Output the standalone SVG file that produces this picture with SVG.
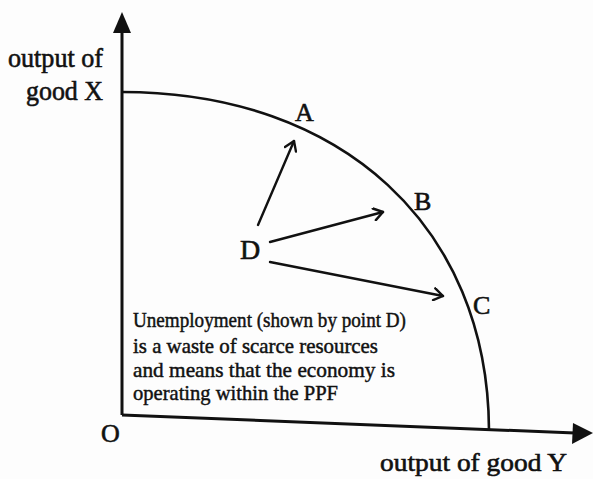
<svg xmlns="http://www.w3.org/2000/svg" width="593" height="479" viewBox="0 0 593 479">
<style>
.ax{stroke:#111;stroke-width:3;fill:none}
.cv{stroke:#111;stroke-width:2.6;fill:none}
.ar{stroke:#111;stroke-width:2.4;fill:none;stroke-linecap:round}
.lbl{font-family:"Liberation Serif",serif;fill:#111;stroke:#111;stroke-width:0.6}
.note{font-family:"Liberation Serif",serif;fill:#111;font-size:21px;stroke:#111;stroke-width:0.45}
</style>
<defs>
<marker id="open" markerWidth="14" markerHeight="14" refX="11" refY="7" orient="auto" markerUnits="userSpaceOnUse">
<path d="M2,1 L11,7 L2,13" fill="none" stroke="#111" stroke-width="2.4" stroke-linecap="round" stroke-linejoin="round"/>
</marker>
</defs>
<rect width="593" height="479" fill="#fdfdfd"/>
<g id="axes">
<path class="ax" d="M122,415 L122,30"/>
<polygon points="122,12 113,33 131,33" fill="#111"/>
<path class="ax" d="M122,415 L575,433"/>
<polygon points="593,433 573,423 572,444" fill="#111"/>
</g>
<g id="ppf">
<path class="cv" d="M122,92 C342,92 488,227 489,430"/>
</g>
<g id="connectors">
<line class="ar" x1="258" y1="225" x2="294" y2="141" marker-end="url(#open)"/>
<line class="ar" x1="270" y1="242" x2="383" y2="212" marker-end="url(#open)"/>
<line class="ar" x1="270" y1="262" x2="443" y2="296" marker-end="url(#open)"/>
</g>
<g id="label-A"><text class="lbl" x="295" y="121" font-size="26">A</text></g>
<g id="label-B"><text class="lbl" x="414" y="210" font-size="26">B</text></g>
<g id="label-C"><text class="lbl" x="473" y="314" font-size="26">C</text></g>
<g id="label-D"><text class="lbl" x="240" y="259" font-size="28">D</text></g>
<g id="label-O"><text class="lbl" x="101" y="442" font-size="26">O</text></g>
<g id="y-label">
<text class="lbl" x="8" y="67" font-size="27" textLength="95" lengthAdjust="spacingAndGlyphs">output of</text>
<text class="lbl" x="26" y="100" font-size="27" textLength="77" lengthAdjust="spacingAndGlyphs">good X</text>
</g>
<g id="x-label">
<text class="lbl" x="380" y="471" font-size="26" textLength="187" lengthAdjust="spacingAndGlyphs">output of good Y</text>
</g>
<g id="note">
<text class="note" x="133" y="327" textLength="273" lengthAdjust="spacingAndGlyphs">Unemployment (shown by point D)</text>
<text class="note" x="133" y="353" textLength="245" lengthAdjust="spacingAndGlyphs">is a waste of scarce resources</text>
<text class="note" x="133" y="377" textLength="262" lengthAdjust="spacingAndGlyphs">and means that the economy is</text>
<text class="note" x="133" y="400" textLength="205" lengthAdjust="spacingAndGlyphs">operating within the PPF</text>
</g>
</svg>
